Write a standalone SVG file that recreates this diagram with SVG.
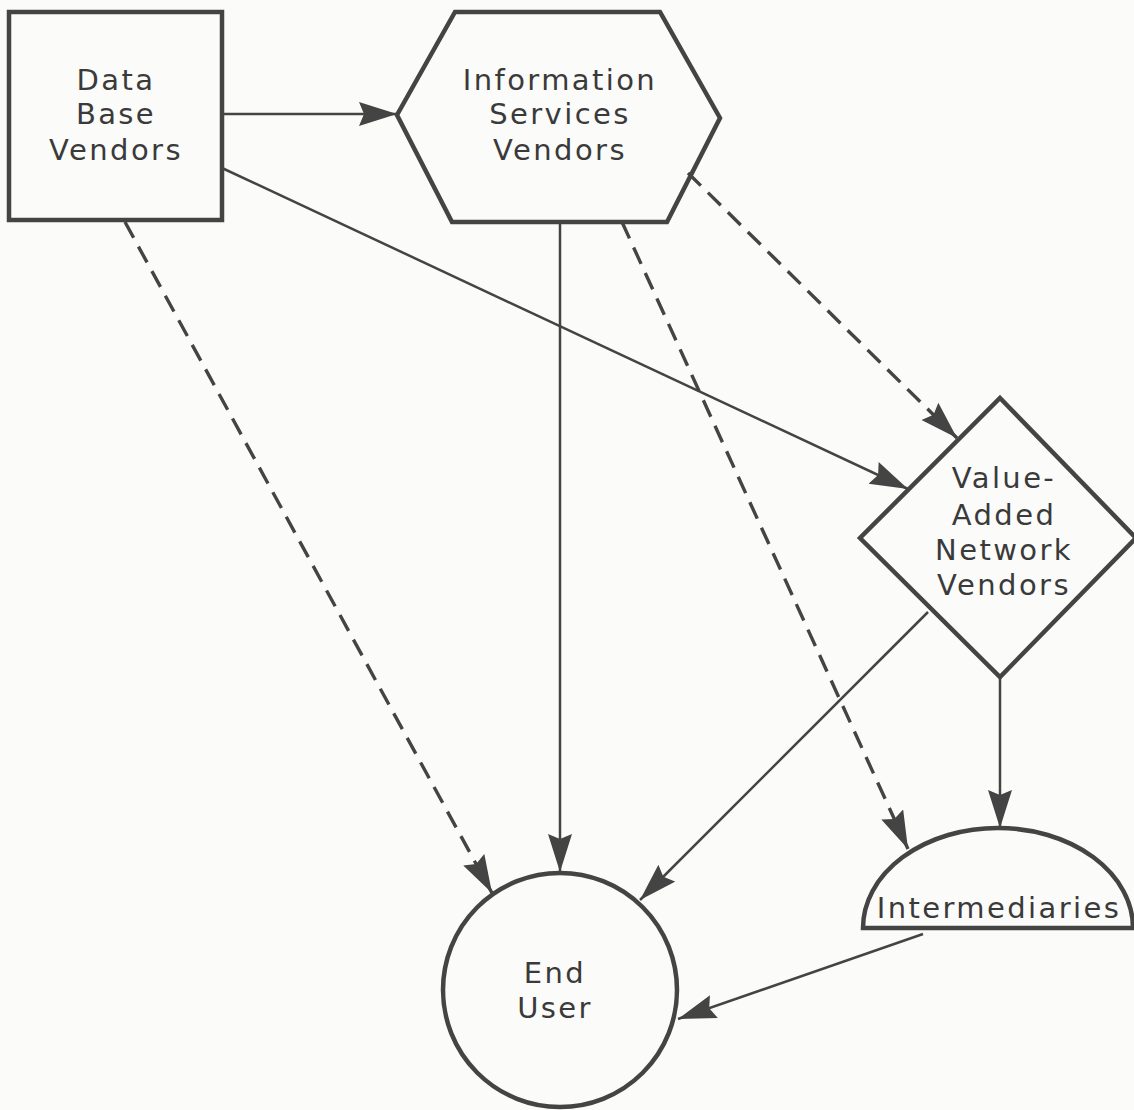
<svg xmlns="http://www.w3.org/2000/svg" width="1134" height="1110" viewBox="0 0 1134 1110">
<defs>
<style>
.node{fill:none;stroke:#444;stroke-width:4.5;stroke-linejoin:miter}
.lbl{font-family:"DejaVu Sans",sans-serif;font-size:29px;fill:#3a3a3a;text-anchor:middle;letter-spacing:2.4px}
.solid{fill:none;stroke:#444;stroke-width:2.5}
.dash{fill:none;stroke:#444;stroke-width:3.4;stroke-dasharray:18 10}
</style>
<marker id="ah" markerUnits="userSpaceOnUse" markerWidth="42" markerHeight="26" refX="38" refY="12" orient="auto" viewBox="0 0 42 26">
<path d="M0,0 L38,12 L0,24 L5,12 Z" fill="#444"/>
</marker>
</defs>
<rect width="1134" height="1110" fill="#fbfbf9"/>
<g id="connectors">
<line class="solid" x1="222" y1="114" x2="397" y2="114" marker-end="url(#ah)"/>
<line class="solid" x1="222" y1="168" x2="908" y2="489" marker-end="url(#ah)"/>
<line class="dash" x1="125" y1="222" x2="492" y2="893" marker-end="url(#ah)"/>
<line class="solid" x1="560" y1="222" x2="560" y2="872" marker-end="url(#ah)"/>
<line class="dash" x1="622" y1="222" x2="908" y2="849" marker-end="url(#ah)"/>
<line class="dash" x1="688" y1="173" x2="957" y2="438" marker-end="url(#ah)"/>
<line class="solid" x1="928" y1="612" x2="640" y2="900" marker-end="url(#ah)"/>
<line class="solid" x1="1000" y1="677" x2="1000" y2="828" marker-end="url(#ah)"/>
<line class="solid" x1="923" y1="934" x2="678" y2="1019" marker-end="url(#ah)"/>
</g>
<g id="data-base-vendors">
<rect class="node" x="9" y="12" width="213" height="208"/>
<text class="lbl" x="116" y="90">Data</text>
<text class="lbl" x="116" y="124">Base</text>
<text class="lbl" x="116" y="160">Vendors</text>
</g>
<g id="information-services-vendors">
<polygon class="node" points="455,12 660,12 720,118 667,222 452,222 397,115"/>
<text class="lbl" x="560" y="90">Information</text>
<text class="lbl" x="560" y="124">Services</text>
<text class="lbl" x="560" y="160">Vendors</text>
</g>
<g id="value-added-network-vendors">
<polygon class="node" points="1000,398 1136,538 1000,677 860,538"/>
<text class="lbl" x="1004" y="488">Value-</text>
<text class="lbl" x="1004" y="525">Added</text>
<text class="lbl" x="1004" y="560">Network</text>
<text class="lbl" x="1004" y="595">Vendors</text>
</g>
<g id="intermediaries">
<path class="node" d="M863,928 A135,100 0 0 1 1133,928 Z"/>
<text class="lbl" x="999" y="918">Intermediaries</text>
</g>
<g id="end-user">
<circle class="node" cx="560" cy="990" r="117"/>
<text class="lbl" x="555" y="983">End</text>
<text class="lbl" x="555" y="1018">User</text>
</g>
</svg>
